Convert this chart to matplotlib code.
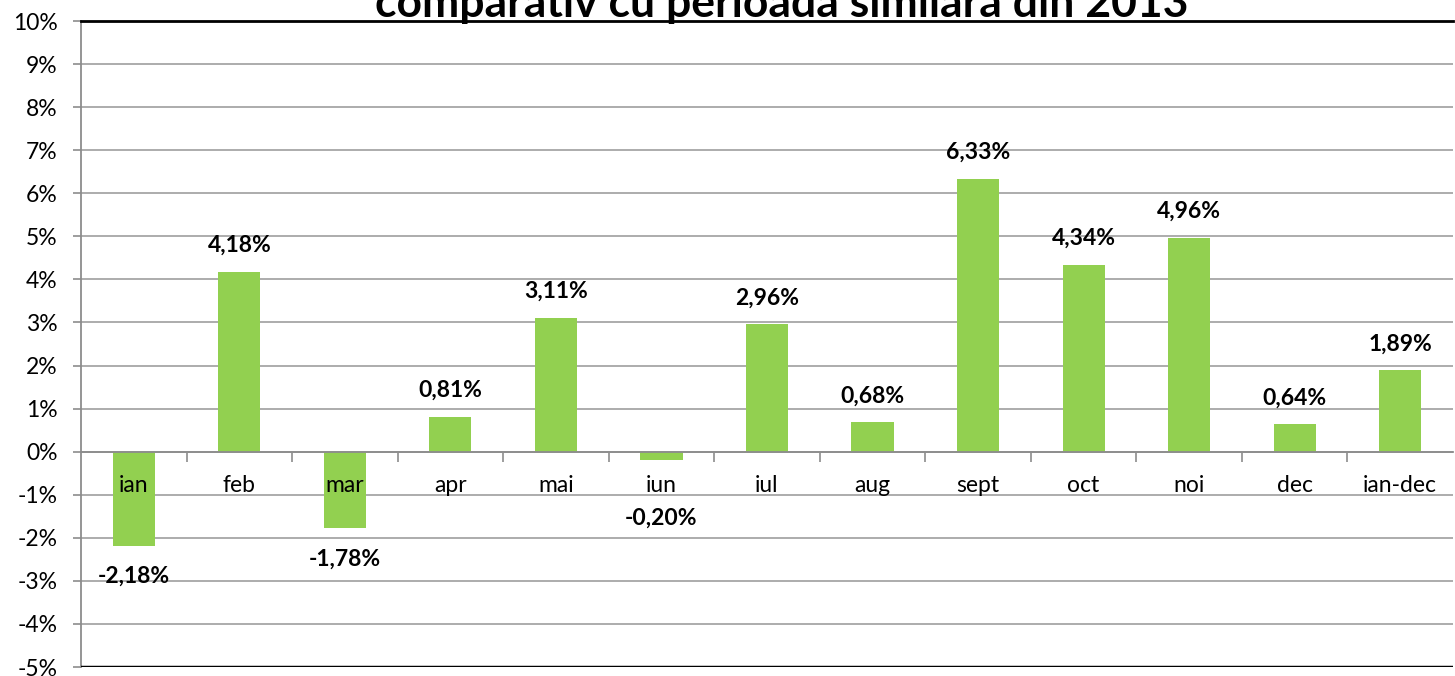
import numpy as np
import matplotlib
matplotlib.use("Agg")
import matplotlib.pyplot as plt
from matplotlib.ticker import FuncFormatter, FixedLocator

# Data
luni = ['ian', 'feb', 'mar', 'apr', 'mai', 'iun', 'iul', 'aug', 'sept', 'oct', 'noi', 'dec', 'ian-dec']
valori = [-2.18, 4.18, -1.78, 0.81, 3.11, -0.20, 2.96, 0.68, 6.33, 4.34, 4.96, 0.64, 1.89]
titlu = 'comparativ cu perioada similară din 2013'

plt.rcParams['font.family'] = ['Lato', 'DejaVu Sans']

fig = plt.figure(figsize=(14.55, 6.76), dpi=100)
ax = fig.add_axes([81 / 1455, 9 / 676, 1372 / 1455, 646 / 676])

x = np.arange(len(luni))
ax.bar(x, valori, width=0.4, color='#92D050', zorder=3)

ax.set_xlim(-0.5, len(luni) - 0.5)
ax.set_ylim(-5, 10)
ax.set_yticks(np.arange(-5, 11, 1))
ax.yaxis.set_major_formatter(FuncFormatter(lambda v, p: f'{v:.0f}%'))
ax.tick_params(axis='y', labelsize=16.5, length=6, width=1.2, color='#8c8c8c', pad=11)
ax.grid(axis='y', color='#a6a6a6', linewidth=1.3, zorder=0)

# ticks between categories, labels drawn as text above the bars
ax.set_xticks([])
ax.xaxis.set_minor_locator(FixedLocator(np.arange(0.5, len(luni) - 1, 1)))
ax.tick_params(axis='x', which='minor', length=7, width=1.2, color='#8c8c8c', direction='out')
for xi, nume in zip(x, luni):
    ax.annotate(nume, (xi, 0), xytext=(0, -24), textcoords='offset points',
                ha='center', va='center', fontsize=16.5, zorder=7)

ax.spines['right'].set_visible(False)
ax.spines['bottom'].set_position(('data', 0))
ax.spines['bottom'].set_color('#8c8c8c')
ax.spines['bottom'].set_linewidth(1.3)
ax.spines['bottom'].set_zorder(4)
ax.spines['left'].set_color('#8c8c8c')
ax.spines['left'].set_linewidth(1.3)
ax.spines['top'].set_color('black')
ax.spines['top'].set_linewidth(2)
ax.axhline(ax.get_ylim()[0], color='black', linewidth=2.5, zorder=5)

# value labels
for xi, v in zip(x, valori):
    text = f'{v:.2f}%'.replace('.', ',')
    if v >= 0:
        off = 19
    elif v > -0.5:
        off = -42
    else:
        off = -22
    ax.annotate(text, (xi, v), xytext=(0, off), textcoords='offset points',
                ha='center', va='center', fontsize=16.5, fontweight='bold', zorder=6)

fig.text(0.537, 1 - 17 / 676, titlu, ha='center', va='baseline', fontsize=32, fontweight='bold')

fig.savefig('out.png', dpi=100)
